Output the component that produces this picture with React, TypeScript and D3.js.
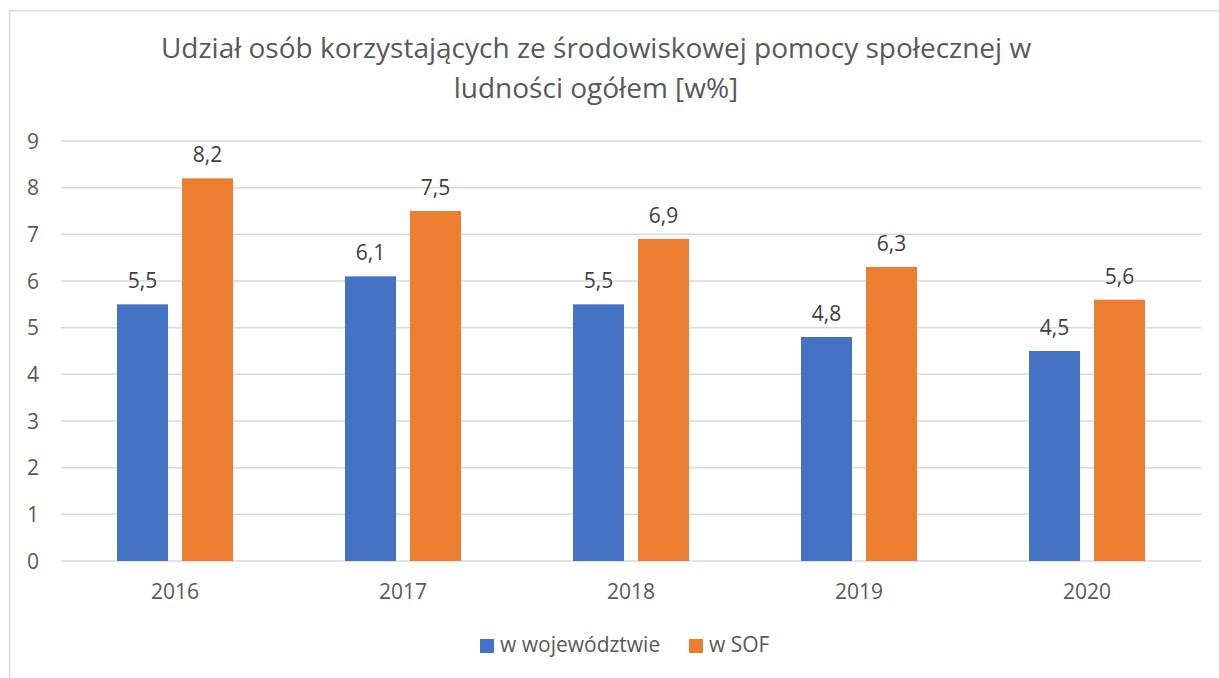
import React from "react";
import * as d3 from "d3";

const categories = ["2016", "2017", "2018", "2019", "2020"];
const seriesNames = ["w województwie", "w SOF"];
const wojewodztwo = [5.5, 6.1, 5.5, 4.8, 4.5];
const sof = [8.2, 7.5, 6.9, 6.3, 5.6];
const yTicks = [0, 1, 2, 3, 4, 5, 6, 7, 8, 9];
const titleLines = [
  "Udział osób korzystających ze środowiskowej pomocy społecznej w",
  "ludności ogółem [w%]",
];

const W = 1219;
const H = 678;
const colors = ["#4472C4", "#ED7D31"];
const textColor = "#595959";
const gridColor = "#D9D9D9";
const font = "'Open Sans', sans-serif";

export default function App() {
  const plotLeft = 61;
  const plotRight = 1201;
  const x = d3.scaleBand<string>().domain(categories).range([plotLeft, plotRight]);
  const y = d3.scaleLinear().domain([0, 9]).range([561, 141]);
  const barW = 51;
  const gap = 14;
  const series = [wojewodztwo, sof];
  const fmt = (v: number) => v.toFixed(1).replace(".", ",");

  return (
    <svg
      width={W}
      height={H}
      style={{ position: "absolute", left: 0, top: 0, background: "#fff" }}
      fontFamily={font}
    >
      <rect x={9.5} y={10.5} width={1400} height={800} fill="#fff" stroke={gridColor} strokeWidth={1.5} />
      {titleLines.map((t, i) => (
        <text key={i} x={596} y={58 + i * 40} textAnchor="middle" fontSize={28} fill={textColor}>
          {t}
        </text>
      ))}
      {yTicks.map((t) => (
        <g key={t}>
          <line x1={plotLeft} x2={plotRight} y1={y(t)} y2={y(t)} stroke={gridColor} strokeWidth={1.5} />
          <text x={33} y={y(t)} dy="0.36em" textAnchor="middle" fontSize={21} fill={textColor}>
            {t}
          </text>
        </g>
      ))}
      {categories.map((c, i) => {
        const cx = (x(c) as number) + x.bandwidth() / 2;
        return (
          <g key={c}>
            {series.map((s, si) => {
              const bx = si === 0 ? cx - gap / 2 - barW : cx + gap / 2;
              return (
                <g key={si}>
                  <rect x={bx} y={y(s[i])} width={barW} height={y(0) - y(s[i])} fill={colors[si]} />
                  <text x={bx + barW / 2} y={y(s[i]) - 16} textAnchor="middle" fontSize={21} fill="#404040">
                    {fmt(s[i])}
                  </text>
                </g>
              );
            })}
            <text x={cx} y={599} textAnchor="middle" fontSize={21} fill={textColor}>
              {c}
            </text>
          </g>
        );
      })}
      <g>
        <rect x={480} y={639} width={14} height={14} fill={colors[0]} />
        <text x={500} y={652} fontSize={21} fill={textColor}>{seriesNames[0]}</text>
        <rect x={689} y={639} width={14} height={14} fill={colors[1]} />
        <text x={709} y={652} fontSize={21} fill={textColor}>{seriesNames[1]}</text>
      </g>
    </svg>
  );
}
